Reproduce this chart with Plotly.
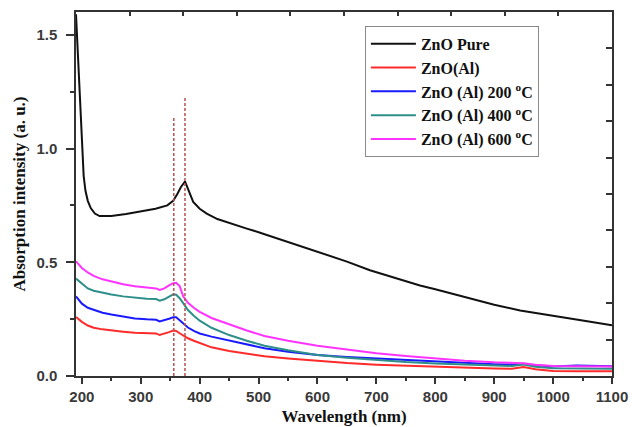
import plotly.graph_objects as go

# UV-Vis absorption spectra of ZnO films
wl_pure = [190, 192, 194, 197, 200, 203, 206, 210, 215, 222, 230, 250, 275, 300, 325, 345,
           355, 362, 368, 375, 380, 389, 400, 412, 430, 450, 480, 500, 550, 593, 650,
           689, 750, 774, 800, 859, 900, 944, 1000, 1029, 1050, 1100]
abs_pure = [1.59, 1.47, 1.38, 1.17, 0.99, 0.88, 0.815, 0.77, 0.738, 0.714, 0.703, 0.703, 0.712, 0.722, 0.735, 0.75,
            0.77, 0.80, 0.83, 0.855, 0.82, 0.765, 0.735, 0.714, 0.69, 0.672, 0.648, 0.632, 0.59, 0.552, 0.503,
            0.465, 0.416, 0.398, 0.381, 0.34, 0.313, 0.288, 0.263, 0.252, 0.244, 0.223]

wl = [190, 200, 210, 220, 235, 250, 270, 290, 310, 326, 332, 340, 348, 355, 360, 366, 372, 380,
      390, 400, 420, 450, 480, 510, 550, 600, 650, 700, 750, 800, 850, 900, 930, 950, 970, 1000,
      1040, 1070, 1100]
abs_al = [0.259, 0.238, 0.222, 0.212, 0.205, 0.2, 0.195, 0.19, 0.188, 0.187, 0.18, 0.185, 0.193, 0.2,
          0.198, 0.188, 0.178, 0.166, 0.155, 0.145, 0.126, 0.11, 0.097, 0.087, 0.077, 0.066, 0.057,
          0.05, 0.045, 0.041, 0.037, 0.033, 0.032, 0.04, 0.03, 0.022, 0.021, 0.021, 0.021]
abs_al_200 = [0.35, 0.318, 0.3, 0.29, 0.278, 0.27, 0.26, 0.253, 0.249, 0.247, 0.24, 0.245, 0.252, 0.258,
              0.258, 0.245, 0.23, 0.213, 0.198, 0.187, 0.173, 0.155, 0.138, 0.122, 0.107, 0.092, 0.083,
              0.077, 0.07, 0.062, 0.056, 0.052, 0.05, 0.054, 0.047, 0.042, 0.046, 0.043, 0.043]
abs_al_400 = [0.428, 0.405, 0.385, 0.375, 0.365, 0.358, 0.35, 0.344, 0.34, 0.338, 0.331, 0.337, 0.35,
              0.359, 0.357, 0.342, 0.32, 0.29, 0.265, 0.243, 0.212, 0.18, 0.155, 0.133, 0.113, 0.092,
              0.08, 0.07, 0.061, 0.055, 0.05, 0.045, 0.044, 0.05, 0.041, 0.034, 0.033, 0.032, 0.032]
abs_al_600 = [0.504, 0.475, 0.455, 0.44, 0.425, 0.415, 0.403, 0.395, 0.39, 0.385, 0.378, 0.385, 0.398,
              0.408, 0.41, 0.395, 0.35, 0.322, 0.3, 0.282, 0.255, 0.227, 0.2, 0.176, 0.155, 0.133,
              0.115, 0.1, 0.088, 0.076, 0.067, 0.06, 0.056, 0.056, 0.05, 0.044, 0.043, 0.042, 0.042]

names = ["ZnO Pure", "ZnO(Al)", "ZnO (Al) 200 <sup>o</sup>C",
         "ZnO (Al) 400 <sup>o</sup>C", "ZnO (Al) 600 <sup>o</sup>C"]
colors = ["#111111", "#ff2a2a", "#1a1aff", "#2e8f8a", "#ff33ff"]

# band-edge markers (wavelength, top of line)
edge_wl = [356, 375]
edge_top = [1.14, 1.225]

x_ticks = [200, 300, 400, 500, 600, 700, 800, 900, 1000, 1100]
y_ticks = [0.0, 0.5, 1.0, 1.5]

fig = go.Figure()
series = [(wl_pure, abs_pure), (wl, abs_al), (wl, abs_al_200), (wl, abs_al_400), (wl, abs_al_600)]
for (xs, ys), name, color in zip(series, names, colors):
    fig.add_trace(go.Scatter(x=xs, y=ys, mode="lines", name=name,
                             line=dict(color=color, width=2), hoverinfo="skip"))

# empty trace so the frame axes (top / right) get drawn
fig.add_trace(go.Scatter(x=[], y=[], xaxis="x2", yaxis="y2", showlegend=False, hoverinfo="skip"))

for xv, top in zip(edge_wl, edge_top):
    fig.add_shape(type="line", x0=xv, x1=xv, y0=0, y1=top, xref="x", yref="y",
                  line=dict(color="#b5524f", width=1.5, dash="3px,2px"))

axis_line = dict(showline=True, linecolor="#333333", linewidth=1.5, showgrid=False, zeroline=False)
tick_font = dict(family="Liberation Sans, Arial, sans-serif", size=15, color="#3a3a3a", weight="bold")
title_font = dict(family="Liberation Serif, Times New Roman, serif", size=17, color="#111111", weight="bold")

fig.update_layout(
    width=632, height=427,
    margin=dict(l=76, r=20, t=12, b=51),
    paper_bgcolor="white", plot_bgcolor="white",
    showlegend=True,
    legend=dict(x=0.539, y=0.962, xanchor="left", yanchor="top",
                bgcolor="white", bordercolor="#8a8a8a", borderwidth=1,
                font=dict(family="Liberation Serif, Times New Roman, serif", size=16,
                          color="#111111", weight="bold"),
                itemwidth=45, tracegroupgap=0),
    xaxis=dict(range=[190, 1100], tickvals=x_ticks, ticks="outside", ticklen=6, tickwidth=1.5,
               tickcolor="#333333", tickfont=tick_font,
               minor=dict(dtick=50, tick0=200, ticks="outside", ticklen=3, tickwidth=1.5, tickcolor="#333333"),
               title=dict(text="Wavelength (nm)", font=title_font, standoff=6),
               automargin=False, **axis_line),
    yaxis=dict(range=[0, 1.6], tickvals=y_ticks, tickformat=".1f", ticks="outside", ticklen=8,
               tickwidth=1.5, tickcolor="#333333", tickfont=tick_font, ticklabelstandoff=6,
               minor=dict(dtick=0.25, tick0=0, ticks="outside", ticklen=4, tickwidth=1.5, tickcolor="#333333"),
               title=dict(text="Absorption intensity (a. u.)", font=title_font, standoff=6),
               automargin=False, **axis_line),
    xaxis2=dict(overlaying="x", side="top", anchor="y2", range=[0, 10], tickvals=list(range(1, 10)),
                ticks="inside", ticklen=4, tickwidth=1.5, tickcolor="#333333",
                showticklabels=False, **axis_line),
    yaxis2=dict(overlaying="y", side="right", anchor="x2", range=[0, 10], tickvals=list(range(1, 10)),
                ticks="inside", ticklen=6, tickwidth=1.5, tickcolor="#333333",
                showticklabels=False, **axis_line),
)

fig.write_html("out.html")
